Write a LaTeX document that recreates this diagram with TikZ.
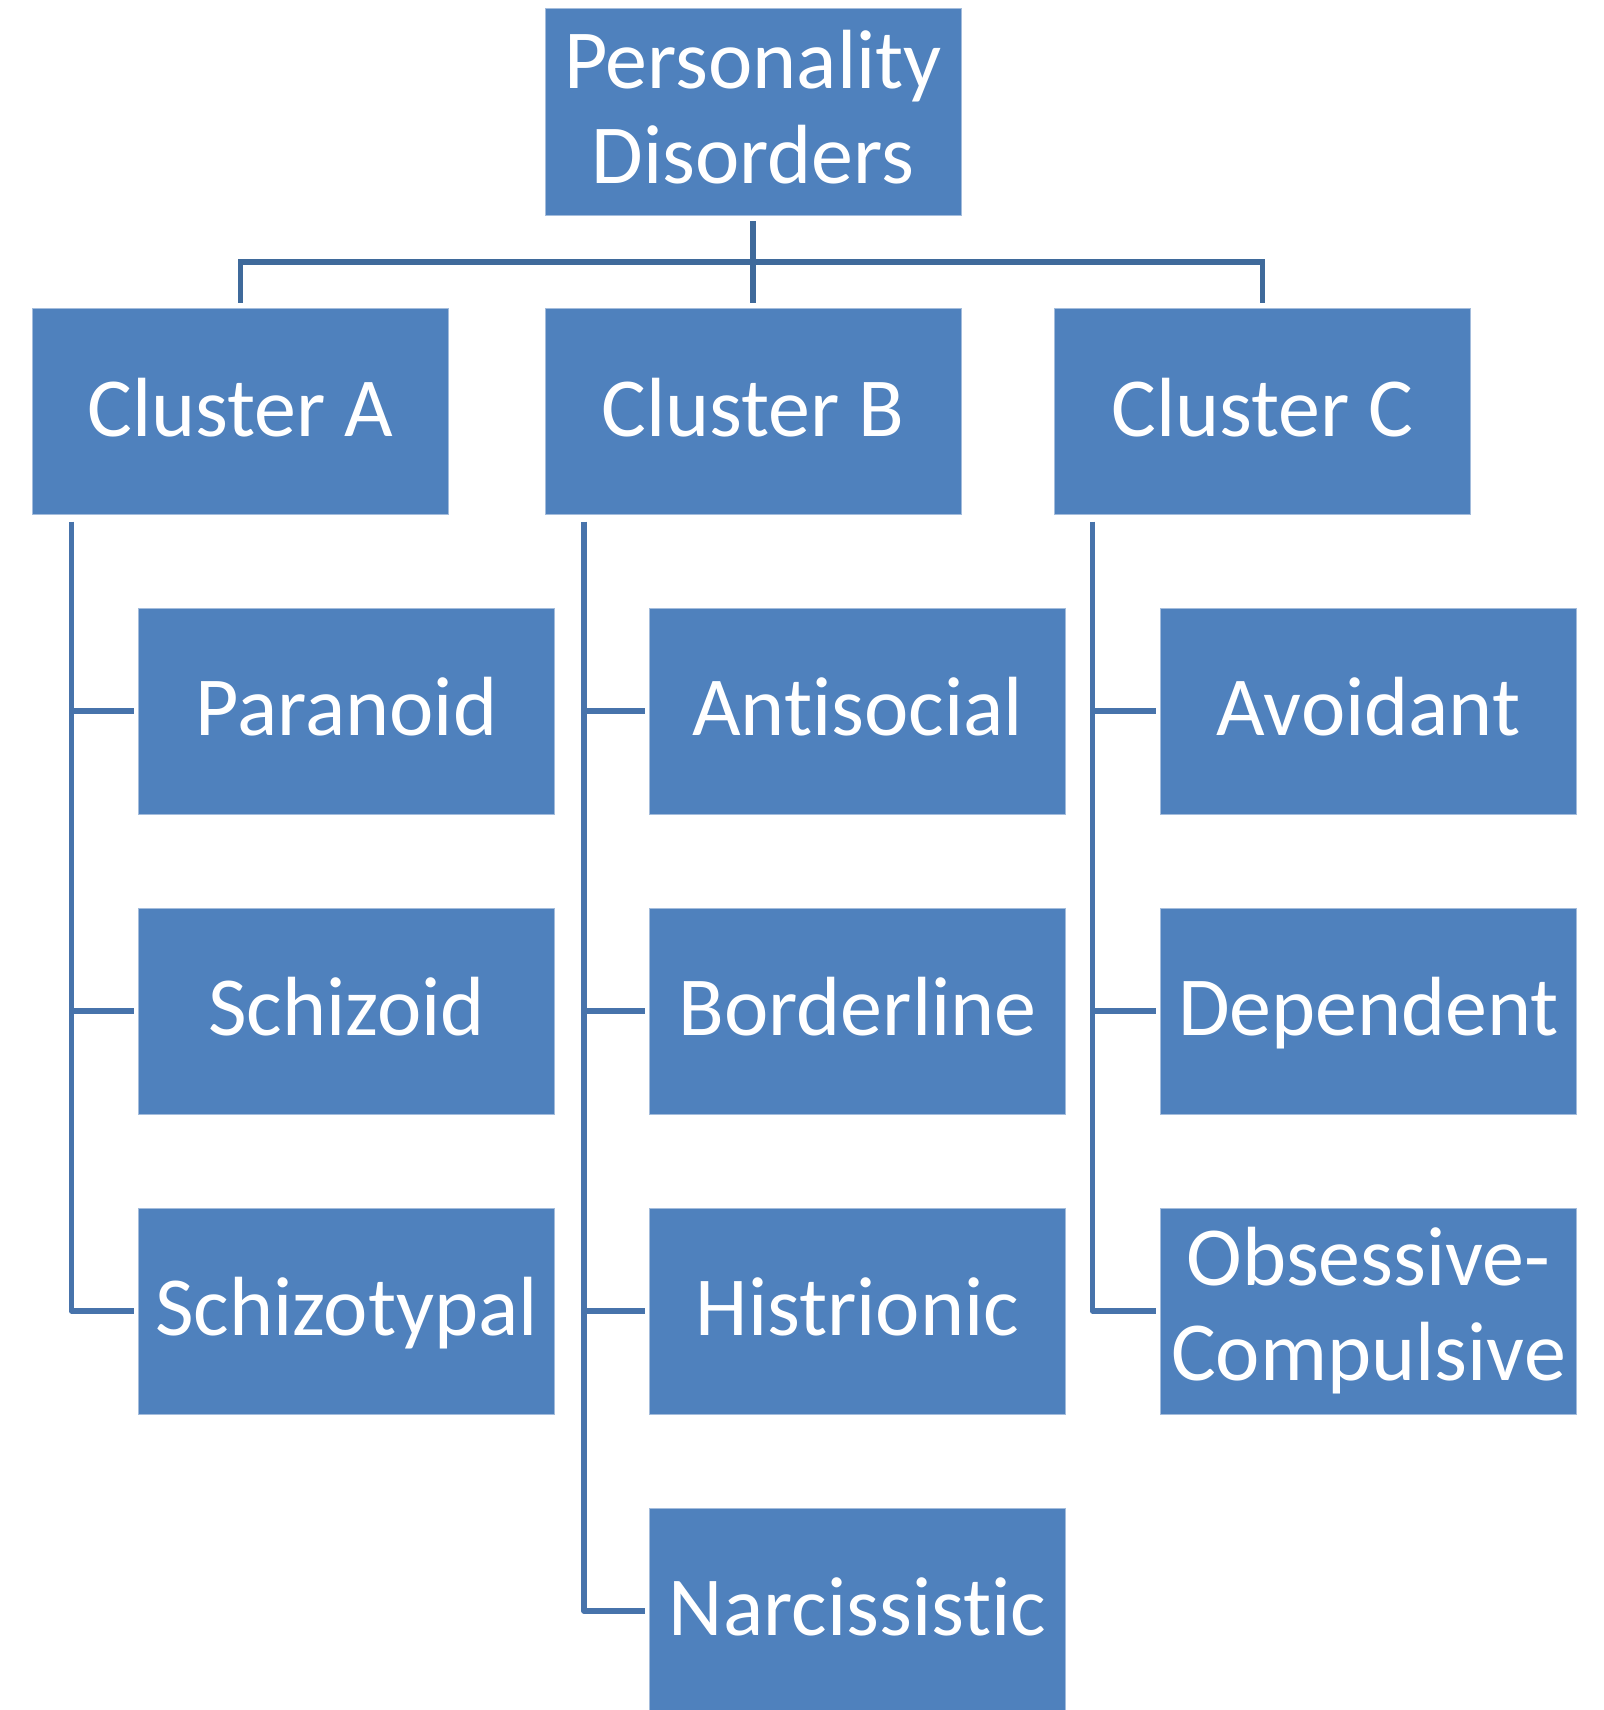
\documentclass[tikz,border=0pt]{standalone}
\usepackage{fontspec}
\setmainfont[Ligatures=NoCommon]{Carlito}
\definecolor{boxblue}{HTML}{4F81BD}
\definecolor{boxedge}{HTML}{A3BCDC}
\definecolor{topline}{HTML}{3F6A9B}
\definecolor{sideline}{HTML}{4773AB}
\tikzset{
  pbox/.style={rectangle, fill=boxblue, draw=boxedge, line width=1pt,
    minimum width=416pt, minimum height=206pt, inner sep=0pt, outer sep=0pt,
    text=white, font=\fontsize{84}{95}\selectfont},
  onebox/.style={pbox, text height=49pt, text depth=0pt},
  twobox/.style={pbox, align=center},
  toplink/.style={draw=topline, line width=5.5pt},
  sidelink/.style={draw=sideline, line width=5.5pt, line join=round}
}
\begin{document}
\begin{tikzpicture}[x=1pt,y=-1pt]
\useasboundingbox (0,0) rectangle (1603,1710);
% top
\node[twobox, text depth=10pt] (root) at (753,112) {Personality\\Disorders};
\node[onebox] (cA) at (240.5,411.5) {Cluster A};
\node[onebox] (cB) at (753,411.5) {Cluster B};
\node[onebox] (cC) at (1262.5,411.5) {Cluster C};
% column A
\node[onebox] (a1) at (346.5,711) {Paranoid};
\node[onebox] (a2) at (346.5,1011) {Schizoid};
\node[onebox] (a3) at (346.5,1311) {Schizotypal};
% column B
\node[onebox] (b1) at (857.5,711) {Antisocial};
\node[onebox] (b2) at (857.5,1011) {Borderline};
\node[onebox] (b3) at (857.5,1311) {Histrionic};
\node[onebox] (b4) at (857.5,1611) {Narcissistic};
% column C
\node[onebox] (c1) at (1368.5,711) {Avoidant};
\node[onebox] (c2) at (1368.5,1011) {Dependent};
\node[twobox] (c3) at (1368.5,1311) {Obsessive-\\Compulsive};
% top connectors
\coordinate (bus) at (753,262);
\draw[toplink] ([yshift=-6pt]root.south) -- ([yshift=6pt]cB.north);
\draw[toplink] ([yshift=6pt]cA.north) |- (bus) -| ([yshift=6pt]cC.north);
% side connectors
\coordinate (aTop) at ([xshift=39pt,yshift=-7pt]cA.south west);
\coordinate (bTop) at ([xshift=39pt,yshift=-7pt]cB.south west);
\coordinate (cTop) at ([xshift=38pt,yshift=-7pt]cC.south west);
\draw[sidelink] (aTop) |- ([xshift=-5pt]a3.west);
\draw[sidelink] (aTop |- a1.west) -- ([xshift=-5pt]a1.west);
\draw[sidelink] (aTop |- a2.west) -- ([xshift=-5pt]a2.west);
\draw[sidelink] (bTop) |- ([xshift=-5pt]b4.west);
\draw[sidelink] (bTop |- b1.west) -- ([xshift=-5pt]b1.west);
\draw[sidelink] (bTop |- b2.west) -- ([xshift=-5pt]b2.west);
\draw[sidelink] (bTop |- b3.west) -- ([xshift=-5pt]b3.west);
\draw[sidelink] (cTop) |- ([xshift=-5pt]c3.west);
\draw[sidelink] (cTop |- c1.west) -- ([xshift=-5pt]c1.west);
\draw[sidelink] (cTop |- c2.west) -- ([xshift=-5pt]c2.west);
\end{tikzpicture}
\end{document}
